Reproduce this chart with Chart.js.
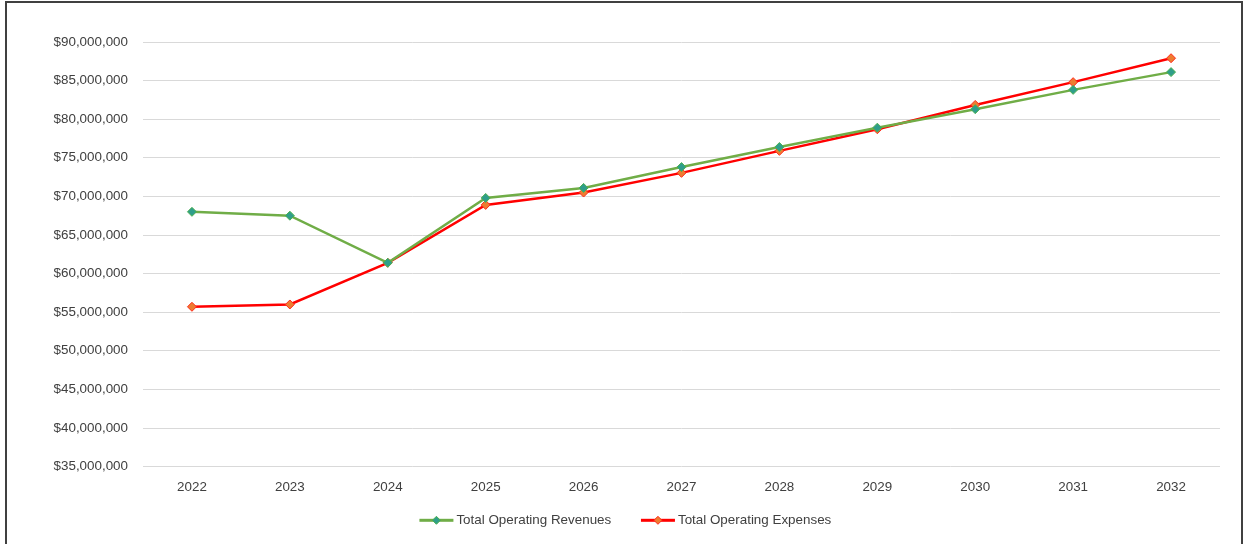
<!DOCTYPE html>
<html>
<head>
<meta charset="utf-8">
<script src="https://cdn.jsdelivr.net/npm/chart.js@4/dist/chart.umd.min.js"></script>
<style>
  html, body { margin: 0; padding: 0; background: #fff; overflow: hidden; }
  #frame {
    position: absolute; left: 5px; top: 1px; width: 1234px; height: 600px;
    border: 2px solid #404040; pointer-events: none;
  }
  #myChart { position: absolute; left: 0; top: 0; }
</style>
</head>
<body>
<canvas id="myChart" width="1244" height="544"></canvas>
<div id="frame"></div>
<script>
const years = ["2022", "2023", "2024", "2025", "2026", "2027", "2028", "2029", "2030", "2031", "2032"];
const revenues = [68000000, 67500000, 61400000, 69800000, 71100000, 73800000, 76400000, 78900000, 81300000, 83800000, 86100000];
const expenses = [55700000, 56000000, 61400000, 68900000, 70500000, 73050000, 75900000, 78700000, 81850000, 84800000, 87900000];
const yMin = 35000000;
const yMax = 90000000;
const yStep = 5000000;

const font = { family: "'Liberation Sans', Arial, sans-serif", size: 13.4 };
const textColor = "#404040";

// legend sample: 34px line ending 3px before the text, diamond in its middle
const legendDiamonds = {
  id: "legendDiamonds",
  afterDraw(chart) {
    const legend = chart.legend;
    if (!legend || !legend.legendHitBoxes) return;
    const ctx = chart.ctx;
    const boxWidth = legend.options.labels.boxWidth;
    const half = font.size / 2;
    legend.legendHitBoxes.forEach((box, i) => {
      const ds = chart.data.datasets[i];
      const cy = box.top + box.height / 2;
      const x1 = box.left + boxWidth + half - 3;
      const x0 = x1 - 34;
      const cx = (x0 + x1) / 2;
      const r = 4;
      ctx.save();
      ctx.fillStyle = ds.borderColor;
      ctx.fillRect(x0, cy - 1.5, x1 - x0, 3);
      ctx.beginPath();
      ctx.moveTo(cx, cy - r);
      ctx.lineTo(cx + r, cy);
      ctx.lineTo(cx, cy + r);
      ctx.lineTo(cx - r, cy);
      ctx.closePath();
      ctx.fillStyle = ds.pointBackgroundColor;
      ctx.fill();
      ctx.lineWidth = 1;
      ctx.strokeStyle = ds.pointBorderColor;
      ctx.stroke();
      ctx.restore();
    });
  }
};

const ctx = document.getElementById("myChart").getContext("2d");
new Chart(ctx, {
  type: "line",
  data: {
    labels: years,
    datasets: [
      {
        label: "Total Operating Revenues",
        data: revenues,
        borderColor: "#70AD47",
        backgroundColor: "#70AD47",
        borderWidth: 2.5,
        pointStyle: "rectRot",
        pointRadius: 4.5,
        pointBackgroundColor: "#2F9E8A",
        pointBorderColor: "#4CB050",
        pointBorderWidth: 1,
        tension: 0,
      },
      {
        label: "Total Operating Expenses",
        data: expenses,
        borderColor: "#FF0000",
        backgroundColor: "#FF0000",
        borderWidth: 2.5,
        pointStyle: "rectRot",
        pointRadius: 4.5,
        pointBackgroundColor: "#ED7D31",
        pointBorderColor: "#FF2A1A",
        pointBorderWidth: 1,
        tension: 0,
      },
    ],
  },
  options: {
    responsive: false,
    animation: false,
    layout: { padding: { top: 42, right: 24, bottom: 7, left: 17 } },
    plugins: {
      tooltip: { enabled: false },
      legend: {
        position: "bottom",
        labels: {
          font: font,
          color: textColor,
          boxWidth: 44,
          boxHeight: 3,
          padding: 16,
          generateLabels(chart) {
            return chart.data.datasets.map((ds, i) => ({
              text: ds.label,
              fillStyle: "rgba(0,0,0,0)",
              strokeStyle: "rgba(0,0,0,0)",
              lineWidth: 0,
              fontColor: textColor,
              hidden: false,
              datasetIndex: i,
            }));
          },
        },
      },
    },
    scales: {
      x: {
        offset: true,
        grid: { display: false, drawTicks: false },
        border: { display: false },
        ticks: { font: font, color: textColor, padding: 13 },
        afterFit(scale) { scale.height = 31; },
      },
      y: {
        min: yMin,
        max: yMax,
        grid: { color: "#D9D9D9", lineWidth: 1, drawTicks: false },
        border: { display: false },
        ticks: {
          stepSize: yStep,
          font: font,
          color: textColor,
          padding: 15,
          callback: (v) => "$" + Number(v).toLocaleString("en-US"),
        },
        afterFit(scale) { scale.width = 126; },
      },
    },
  },
  plugins: [legendDiamonds],
});
</script>
</body>
</html>
